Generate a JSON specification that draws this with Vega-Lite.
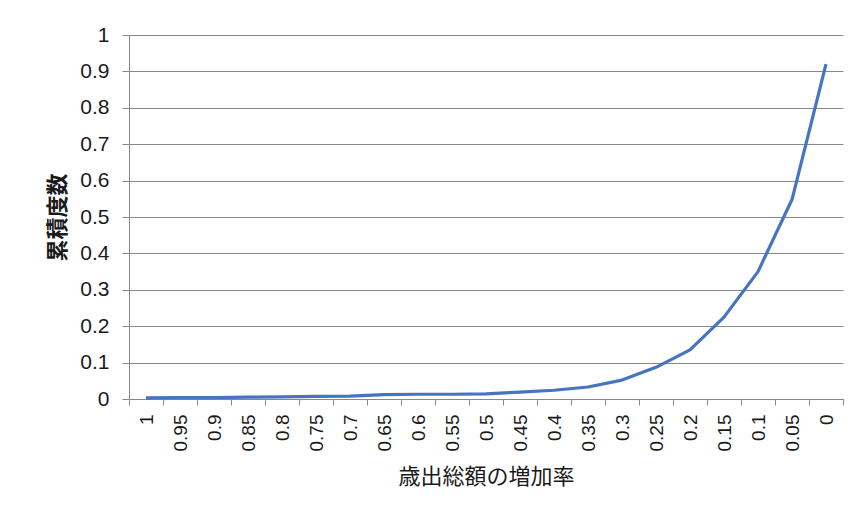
{
  "$schema": "https://vega.github.io/schema/vega-lite/v6.json",
  "autosize": "none",
  "width": 714,
  "height": 364,
  "padding": {"left": 129, "top": 35, "right": 9, "bottom": 121},
  "background": "#ffffff",
  "config": {
    "view": {"stroke": null},
    "font": "Noto Sans CJK JP"
  },
  "data": {
    "values": [
      {"rate": 1, "cum": 0.003},
      {"rate": 0.95, "cum": 0.004},
      {"rate": 0.9, "cum": 0.004},
      {"rate": 0.85, "cum": 0.005},
      {"rate": 0.8, "cum": 0.006},
      {"rate": 0.75, "cum": 0.007},
      {"rate": 0.7, "cum": 0.008},
      {"rate": 0.65, "cum": 0.012},
      {"rate": 0.6, "cum": 0.013},
      {"rate": 0.55, "cum": 0.013},
      {"rate": 0.5, "cum": 0.014},
      {"rate": 0.45, "cum": 0.019},
      {"rate": 0.4, "cum": 0.024},
      {"rate": 0.35, "cum": 0.033},
      {"rate": 0.3, "cum": 0.052},
      {"rate": 0.25, "cum": 0.087},
      {"rate": 0.2, "cum": 0.135},
      {"rate": 0.15, "cum": 0.225},
      {"rate": 0.1, "cum": 0.35},
      {"rate": 0.05, "cum": 0.548},
      {"rate": 0, "cum": 0.92}
    ]
  },
  "mark": {"type": "line", "color": "#4674c0", "strokeWidth": 3.2, "strokeJoin": "round"},
  "encoding": {
    "x": {
      "field": "rate",
      "type": "ordinal",
      "sort": "descending",
      "scale": {"paddingInner": 0, "paddingOuter": 0},
      "axis": {
        "title": "歳出総額の増加率",
        "titleFont": "Noto Sans CJK JP",
        "titleFontSize": 22,
        "titleFontWeight": "normal",
        "titleColor": "#1a1a1a",
        "titleBaseline": "middle",
        "titleY": 77,
        "labelAngle": 270,
        "labelAlign": "right",
        "labelBaseline": "middle",
        "labelFont": "Liberation Sans",
        "labelFontSize": 19,
        "labelColor": "#1a1a1a",
        "labelPadding": 9,
        "labelOverlap": false,
        "tickBand": "extent",
        "tickSize": 6,
        "tickColor": "#888888",
        "domainColor": "#888888",
        "grid": false
      }
    },
    "y": {
      "field": "cum",
      "type": "quantitative",
      "scale": {"domain": [0, 1], "nice": false},
      "axis": {
        "title": "累積度数",
        "titleFont": "Noto Sans CJK JP",
        "titleFontSize": 22,
        "titleFontWeight": "bold",
        "titleColor": "#1a1a1a",
        "titleAngle": -90,
        "titleBaseline": "middle",
        "titleX": -72,
        "values": [0, 0.1, 0.2, 0.3, 0.4, 0.5, 0.6, 0.7, 0.8, 0.9, 1],
        "format": ".1~f",
        "labelFont": "Liberation Sans",
        "labelFontSize": 21,
        "labelColor": "#1a1a1a",
        "labelPadding": 13,
        "tickSize": 7,
        "tickColor": "#888888",
        "domainColor": "#888888",
        "gridColor": "#888888",
        "gridOpacity": 1
      }
    }
  }
}
